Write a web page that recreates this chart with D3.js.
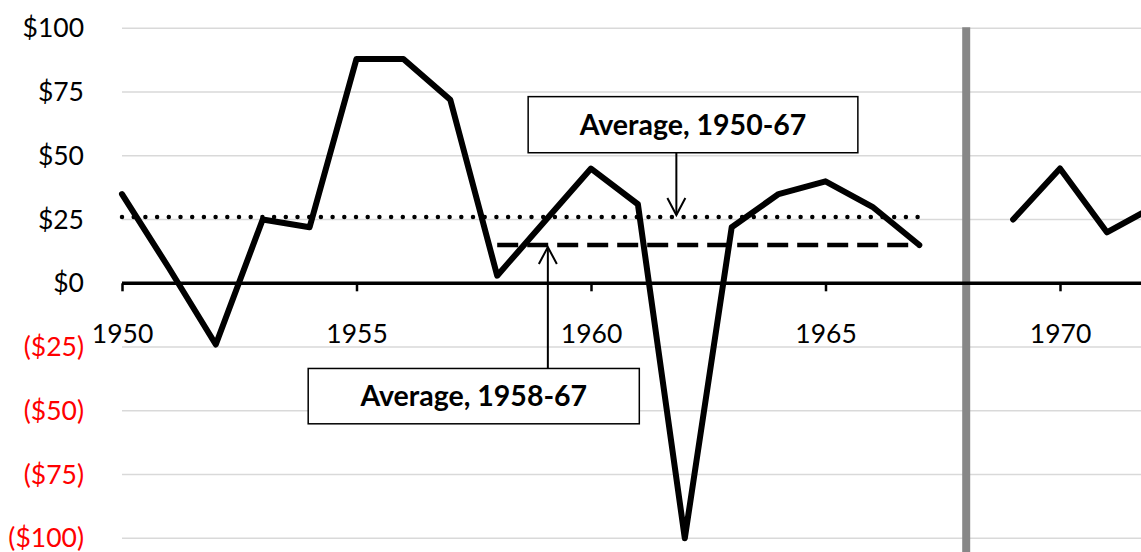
<!DOCTYPE html>
<html>
<head>
<meta charset="utf-8">
<script src="https://cdn.jsdelivr.net/npm/d3@7"></script>
<style>
  html, body { margin: 0; padding: 0; background: #fff; }
  svg { display: block; font-family: Lato, "Open Sans", sans-serif; }
</style>
</head>
<body>
<svg id="chart" width="1141" height="552"></svg>
<script>
// ---- data ----
const years = [1950,1951,1952,1953,1954,1955,1956,1957,1958,1959,1960,1961,1962,1963,1964,1965,1966,1967,1968,1969,1970,1971,1972];
const values = [35,6,-24,25,22,88,88,72,3,24,45,31,-100,22,35,40,30,15,null,25,45,20,30];
const yTicks = [100,75,50,25,0,-25,-50,-75,-100];
const xTicks = [1950,1955,1960,1965,1970];
const avgAll = {label: "Average, 1950-67", from: 1950, to: 1967, value: 26};
const avgLate = {label: "Average, 1958-67", from: 1958, to: 1967, value: 15};
const breakYear = 1968;

// ---- scales ----
const svg = d3.select("#chart");
const W = 1141, H = 552;
const x = d3.scaleLinear().domain([1950, 1970]).range([122, 1060]);
const y = d3.scaleLinear().domain([-100, 100]).range([538.3, 28.3]);

const fmt = v => v < 0 ? "($" + Math.abs(v) + ")" : "$" + v;

// gridlines
svg.append("g").selectAll("line").data(yTicks.filter(v => v !== 0)).join("line")
  .attr("x1", x(1950)).attr("x2", W)
  .attr("y1", d => y(d)).attr("y2", d => y(d))
  .attr("stroke", "#d9d9d9").attr("stroke-width", 1.5);

// y labels
svg.append("g").selectAll("text").data(yTicks).join("text")
  .attr("x", 84).attr("y", d => y(d)).attr("dy", "0.34em")
  .attr("text-anchor", "end")
  .attr("font-size", 26.5)
  .attr("fill", d => d < 0 ? "#ff0000" : "#000")
  .text(fmt);

// break line (gray vertical)
svg.append("line")
  .attr("x1", x(breakYear)).attr("x2", x(breakYear))
  .attr("y1", y(100) - 1).attr("y2", H)
  .attr("stroke", "#878787").attr("stroke-width", 8);

// x axis
const xAxis = d3.axisBottom(x).tickValues(xTicks).tickFormat(d3.format("d")).tickSize(8).tickPadding(33);
const gx = svg.append("g").attr("transform", `translate(0,${y(0)})`).call(xAxis);
gx.select(".domain").remove();
gx.selectAll(".tick line").attr("stroke", "#000").attr("stroke-width", 2.5);
gx.selectAll(".tick text").attr("font-size", 26.5).attr("fill", "#000").attr("font-family", "Lato, 'Open Sans', sans-serif");
svg.append("line").attr("x1", x(1950)).attr("x2", W)
  .attr("y1", y(0)).attr("y2", y(0)).attr("stroke", "#000").attr("stroke-width", 3.5);

// average lines
svg.append("line")
  .attr("x1", x(avgAll.from)).attr("x2", x(avgAll.to))
  .attr("y1", y(avgAll.value)).attr("y2", y(avgAll.value))
  .attr("stroke", "#000").attr("stroke-width", 4.5)
  .attr("stroke-linecap", "round").attr("stroke-dasharray", "0 11.7");
svg.append("line")
  .attr("x1", x(avgLate.from)).attr("x2", x(avgLate.to))
  .attr("y1", y(avgLate.value)).attr("y2", y(avgLate.value))
  .attr("stroke", "#000").attr("stroke-width", 4.5)
  .attr("stroke-dasharray", "21 9");

// main series
const pts = years.map((yr, i) => ({yr, v: values[i]}));
const line = d3.line().defined(d => d.v !== null).x(d => x(d.yr)).y(d => y(d.v));
svg.append("path").datum(pts).attr("d", line)
  .attr("fill", "none").attr("stroke", "#000").attr("stroke-width", 6)
  .attr("stroke-linejoin", "round").attr("stroke-linecap", "round");

// annotations
function callout(a, box, arrowYear, arrowFromTop) {
  const bx0 = x(box.x0), bx1 = x(box.x1), by0 = y(box.y0), by1 = y(box.y1);
  svg.append("rect").attr("x", bx0).attr("y", by0).attr("width", bx1 - bx0).attr("height", by1 - by0)
    .attr("fill", "#fff").attr("stroke", "#000").attr("stroke-width", 1.5);
  svg.append("text").attr("x", (bx0 + bx1) / 2).attr("y", (by0 + by1) / 2).attr("dy", "0.36em")
    .attr("text-anchor", "middle").attr("font-size", 28.5).attr("font-weight", "bold").text(a.label);
  const ax = x(arrowYear);
  const start = arrowFromTop ? by1 : by0;
  const tip = y(a.value) + (arrowFromTop ? -2 : 2);
  const dir = arrowFromTop ? 1 : -1;
  svg.append("line").attr("x1", ax).attr("x2", ax).attr("y1", start).attr("y2", tip)
    .attr("stroke", "#000").attr("stroke-width", 2);
  svg.append("path")
    .attr("d", `M${ax - 9},${tip - dir * 17} L${ax},${tip} L${ax + 9},${tip - dir * 17}`)
    .attr("fill", "none").attr("stroke", "#000").attr("stroke-width", 2);
}
callout(avgAll, {x0: 1958.66, x1: 1965.69, y0: 73.2, y1: 51.2}, 1961.82, true);
callout(avgLate, {x0: 1953.97, x1: 1961.03, y0: -33.4, y1: -55.1}, 1959.08, false);
</script>
</body>
</html>
